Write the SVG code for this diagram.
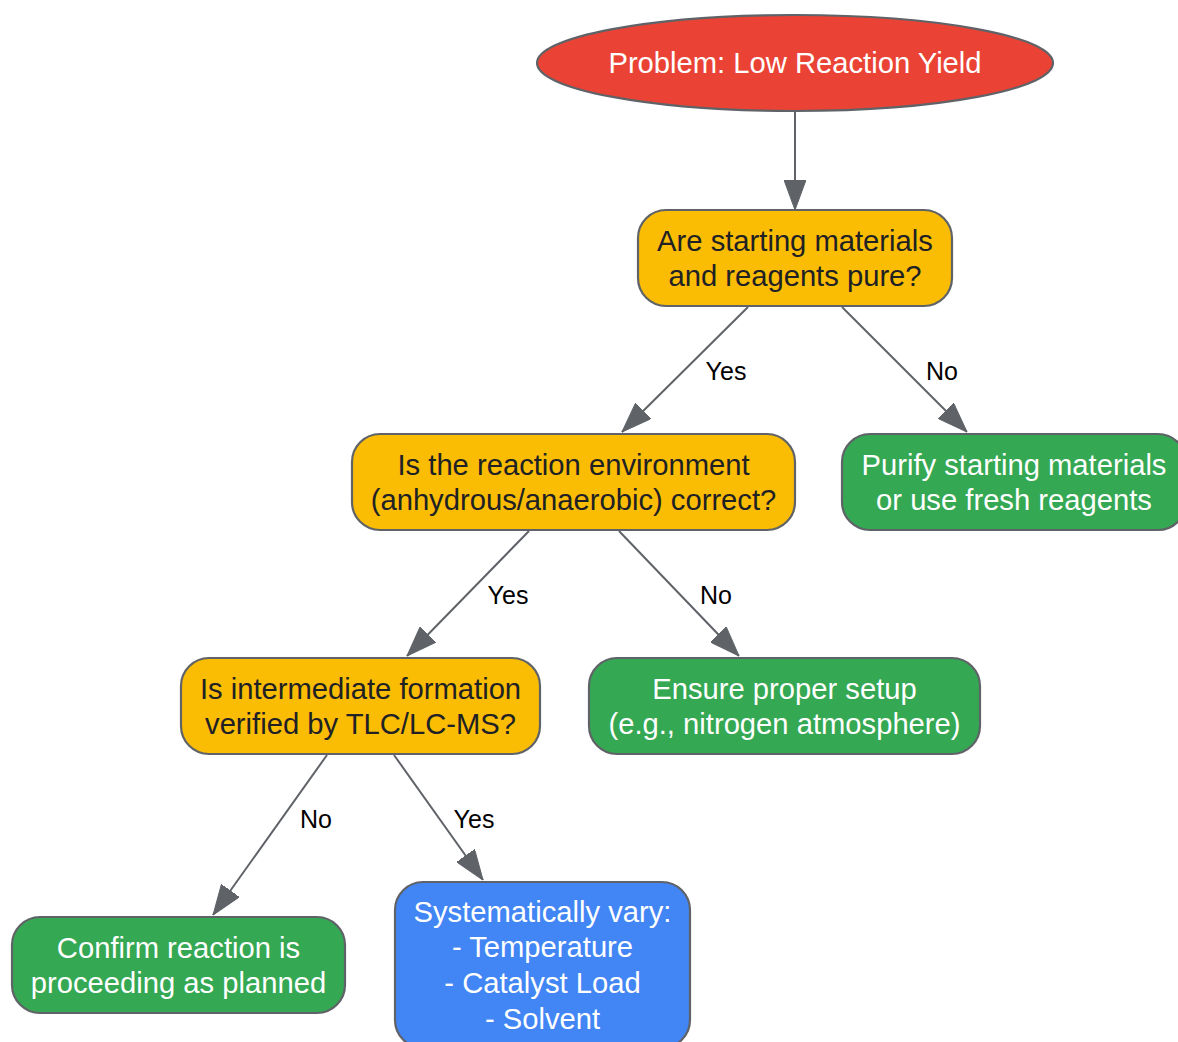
<svg xmlns="http://www.w3.org/2000/svg" width="1178" height="1042" viewBox="0 0 1178 1042">
<style>
.n{stroke:#5f6368;stroke-width:2.2}
.y{fill:#FBBC04}.g{fill:#34A853}.b{fill:#4285F4}.r{fill:#EA4335}
text{font-family:"Liberation Sans",Arial,sans-serif;text-anchor:middle}
.t{font-size:29.2px}
.dk{fill:#202124}.wt{fill:#ffffff}
.e{stroke:#5f6368;stroke-width:2;fill:none;marker-end:url(#ah)}
.l{font-size:25px;fill:#000000}
</style>
<defs>
<marker id="ah" viewBox="0 0 30 22" refX="30" refY="11" markerWidth="30" markerHeight="22" orient="auto" markerUnits="userSpaceOnUse">
<path d="M0,0 L30,11 L0,22 Z" fill="#5f6368" stroke="#5f6368" stroke-width="1"/>
</marker>
</defs>
<g id="connectors">
<line class="e" x1="795" y1="111" x2="795" y2="210"/>
<line class="e" x1="748" y1="307" x2="622" y2="432"/>
<line class="e" x1="842" y1="307" x2="967" y2="432"/>
<line class="e" x1="529" y1="531" x2="407" y2="656"/>
<line class="e" x1="619" y1="531" x2="739" y2="656"/>
<line class="e" x1="327" y1="755" x2="213" y2="915"/>
<line class="e" x1="394" y1="755" x2="483" y2="880"/>
<text class="l" x="726" y="380">Yes</text>
<text class="l" x="942" y="380">No</text>
<text class="l" x="508" y="604">Yes</text>
<text class="l" x="716" y="604">No</text>
<text class="l" x="316" y="828">No</text>
<text class="l" x="474" y="828">Yes</text>
</g>
<g id="start">
<ellipse class="n r" cx="795" cy="63" rx="258" ry="48"/>
<text class="t wt" x="795" y="73">Problem: Low Reaction Yield</text>
</g>
<g id="q1">
<rect class="n y" x="638" y="210" width="314" height="96" rx="28"/>
<text class="t dk" x="795" y="251">Are starting materials</text>
<text class="t dk" x="795" y="286">and reagents pure?</text>
</g>
<g id="purify">
<rect class="n g" x="842" y="434" width="344" height="96" rx="28"/>
<text class="t wt" x="1014" y="475">Purify starting materials</text>
<text class="t wt" x="1014" y="510">or use fresh reagents</text>
</g>
<g id="q2">
<rect class="n y" x="352" y="434" width="443" height="96" rx="28"/>
<text class="t dk" x="573.5" y="475">Is the reaction environment</text>
<text class="t dk" x="573.5" y="510">(anhydrous/anaerobic) correct?</text>
</g>
<g id="ensure">
<rect class="n g" x="589" y="658" width="391" height="96" rx="28"/>
<text class="t wt" x="784.5" y="699">Ensure proper setup</text>
<text class="t wt" x="784.5" y="734">(e.g., nitrogen atmosphere)</text>
</g>
<g id="q3">
<rect class="n y" x="181" y="658" width="359" height="96" rx="28"/>
<text class="t dk" x="360.5" y="699">Is intermediate formation</text>
<text class="t dk" x="360.5" y="734">verified by TLC/LC-MS?</text>
</g>
<g id="confirm">
<rect class="n g" x="12" y="917" width="333" height="96" rx="28"/>
<text class="t wt" x="178.5" y="958">Confirm reaction is</text>
<text class="t wt" x="178.5" y="993">proceeding as planned</text>
</g>
<g id="vary">
<rect class="n b" x="395" y="882" width="295" height="166" rx="28"/>
<text class="t wt" x="542.5" y="922">Systematically vary:</text>
<text class="t wt" x="542.5" y="957">- Temperature</text>
<text class="t wt" x="542.5" y="993">- Catalyst Load</text>
<text class="t wt" x="542.5" y="1029">- Solvent</text>
</g>
</svg>
